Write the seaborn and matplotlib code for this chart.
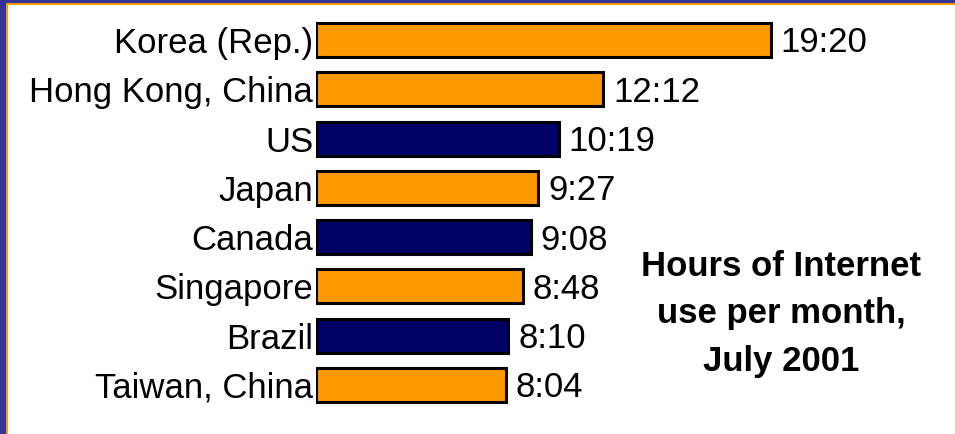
import matplotlib
matplotlib.use("Agg")
import matplotlib.pyplot as plt
from matplotlib.patches import Rectangle
from matplotlib import font_manager
import seaborn as sns
import pandas as pd

countries = ["Korea (Rep.)", "Hong Kong, China", "US", "Japan", "Canada",
             "Singapore", "Brazil", "Taiwan, China"]
hours = [19, 12, 10, 9, 9, 8, 8, 8]
minutes = [20, 12, 19, 27, 8, 48, 10, 4]
region = ["Asia", "Asia", "Americas", "Asia", "Americas", "Asia", "Americas", "Asia"]
title_lines = ["Hours of Internet", "use per month,", "July 2001"]

palette = {"Asia": "#FF9900", "Americas": "#000066"}

df = pd.DataFrame({
    "country": countries,
    "value": [h + m / 60 for h, m in zip(hours, minutes)],
    "label": [f"{h}:{m:02d}" for h, m in zip(hours, minutes)],
    "region": region,
})

sns.set_theme(style="white")
names = {f.name for f in font_manager.fontManager.ttflist}
fam = "Liberation Sans Narrow" if "Liberation Sans Narrow" in names else "Liberation Sans"
plt.rcParams["font.family"] = [fam, "DejaVu Sans"]

FS = 25
W, H = 955, 434
fig = plt.figure(figsize=(W / 100, H / 100), dpi=100)
fig.patch.set_facecolor("white")

x0 = 316
ppu = 23.53
ppr = 49.3
ax = fig.add_axes([x0 / W, 1 - 409.6 / H, (W - x0) / W, 394.3 / H])
sns.barplot(data=df, x="value", y="country", hue="region", palette=palette,
            dodge=False, legend=False, ax=ax, width=0.69,
            edgecolor="black", linewidth=2.2, saturation=1)
ax.set_xlim(0, (W - x0) / ppu)
ax.set_ylim(7.5, -0.5)
ax.set_xlabel("")
ax.set_ylabel("")
ax.set_xticks([])
for s in ax.spines.values():
    s.set_visible(False)
ax.tick_params(axis="y", length=0, pad=2, labelsize=FS)
for t in ax.get_yticklabels():
    t.set_color("black")

cap_off = 0.716 * FS * 100 / 72 / 2 / ppr
for i, (v, lab) in enumerate(zip(df["value"], df["label"])):
    ax.text(v + 0.42, i + cap_off, lab, va="baseline", ha="left", fontsize=FS, color="black")

fig.text(781 / W, 1 - 314 / H, "\n".join(title_lines), ha="center", va="center",
         fontsize=FS, fontweight="bold", linespacing=1.57, color="black")

# frame
blue = "#333399"
orange = "#FF9900"
fig.add_artist(Rectangle((0, 0), 6 / W, 1, transform=fig.transFigure, color=blue, lw=0))
fig.add_artist(Rectangle((6 / W, 0), 2 / W, 1 - 3 / H, transform=fig.transFigure, color=orange, lw=0))
fig.add_artist(Rectangle((0, 1 - 3 / H), 1, 3 / H, transform=fig.transFigure, color=blue, lw=0))
fig.add_artist(Rectangle((6 / W, 1 - 4.5 / H), 1, 1.5 / H, transform=fig.transFigure, color=orange, lw=0))

fig.savefig("out.png", dpi=100)
